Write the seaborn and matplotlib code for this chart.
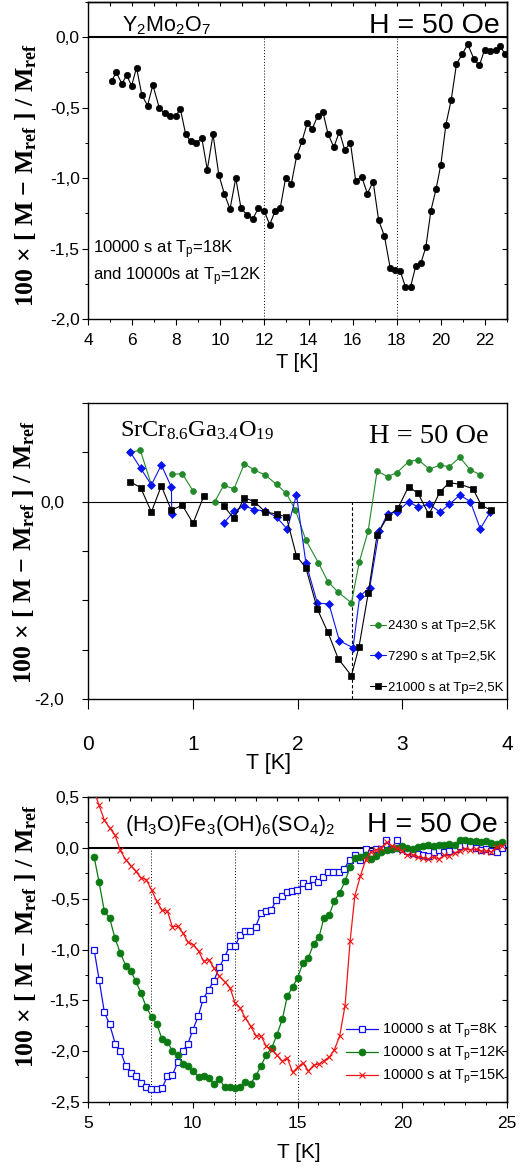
import numpy as np
import pandas as pd
import matplotlib
matplotlib.use("Agg")
import matplotlib.pyplot as plt
import seaborn as sns
from matplotlib.ticker import MultipleLocator, FixedLocator, FuncFormatter, NullFormatter

# ---- data: panel 1, Y2Mo2O7 ----
y2mo_T = [5.07, 5.28, 5.54, 5.75, 5.98, 6.2, 6.44, 6.7, 6.94, 7.24, 7.47, 7.71, 7.97,
          8.19, 8.43, 8.66, 8.92, 9.16, 9.41, 9.67, 9.93, 10.18, 10.44, 10.7, 10.94,
          11.21, 11.47, 11.72, 11.98, 12.24, 12.48, 12.72, 12.96, 13.22, 13.46, 13.7,
          13.94, 14.17, 14.41, 14.65, 14.89, 15.15, 15.4, 15.64, 15.9, 16.14, 16.41,
          16.67, 16.93, 17.18, 17.44, 17.7, 17.94, 18.16, 18.39, 18.63, 18.86, 19.1,
          19.32, 19.55, 19.78, 20.0, 20.23, 20.47, 20.71, 20.97, 21.22, 21.5, 21.75,
          21.98, 22.24, 22.48, 22.69, 22.9]
y2mo_dM = [-0.31, -0.25, -0.33, -0.27, -0.345, -0.215, -0.41, -0.485, -0.34, -0.505,
           -0.54, -0.56, -0.56, -0.51, -0.69, -0.74, -0.75, -0.715, -0.94, -0.69,
           -0.975, -1.11, -1.22, -1.0, -1.215, -1.26, -1.29, -1.215, -1.23, -1.33,
           -1.235, -1.21, -1.0, -1.04, -0.845, -0.74, -0.61, -0.65, -0.56, -0.53,
           -0.69, -0.78, -0.67, -0.80, -0.75, -1.02, -0.99, -1.11, -1.025, -1.30,
           -1.41, -1.635, -1.65, -1.66, -1.77, -1.77, -1.625, -1.60, -1.49, -1.23,
           -1.08, -0.905, -0.62, -0.445, -0.19, -0.12, -0.05, -0.155, -0.20, -0.09,
           -0.095, -0.09, -0.06, -0.12]
y2mo_tp = [12, 18]

# ---- data: panel 2, SrCr8.6Ga3.4O19 (nan = break in the curve) ----
nan = np.nan
scgo_T_2430 = [0.40, 0.50, 0.605, nan, 0.806, 0.90, 1.003, nan, 1.21, 1.295, 1.394,
               1.493, 1.589, 1.693, 1.80, 1.894, 1.98, 2.08, 2.2, 2.29, 2.39, 2.515,
               2.59, 2.674, 2.76, 2.86, 2.95, 3.06, 3.15, 3.26, 3.36, 3.45, 3.55, 3.65,
               3.745]
scgo_dM_2430 = [0.50, 0.52, 0.17, nan, 0.277, 0.284, 0.108, nan, 0.0, 0.165, 0.13,
                0.385, 0.32, 0.27, 0.175, 0.084, -0.085, -0.39, -0.62, -0.81, -0.92,
                -1.025, -0.61, -0.30, 0.31, 0.255, 0.295, 0.405, 0.425, 0.33, 0.37,
                0.355, 0.45, 0.32, 0.275]
scgo_T_7290 = [0.405, 0.503, 0.605, 0.70, 0.796, 0.80, nan, 1.295, 1.394, 1.493, 1.589,
               1.693, 1.80, 1.903, 1.99, 2.08, 2.19, 2.30, 2.40, 2.53, 2.594, 2.69,
               2.78, 2.86, 2.95, 3.06, 3.15, 3.26, 3.36, 3.45, 3.55, 3.65, 3.745, 3.84]
scgo_dM_7290 = [0.50, 0.338, 0.17, 0.372, 0.148, -0.12, nan, -0.22, -0.095, -0.045,
                -0.08, -0.095, -0.156, -0.28, 0.07, -0.62, -1.03, -1.035, -1.41, -1.48,
                -0.96, -0.87, -0.30, -0.12, -0.105, 0.0, -0.054, -0.027, -0.105,
                -0.027, 0.068, 0.0, -0.274, -0.105]
scgo_T_21000 = [0.405, 0.503, 0.605, 0.70, 0.796, 0.90, 1.003, 1.105, nan, 1.295,
                1.394, 1.493, 1.589, 1.693, 1.80, 1.894, 1.99, 2.08, 2.19, 2.29, 2.39,
                2.515, 2.587, 2.675, 2.76, 2.86, 2.96, 3.06, 3.15, 3.255, 3.36, 3.45,
                3.55, 3.675, 3.755, 3.85]
scgo_dM_21000 = [0.20, 0.142, -0.105, 0.16, -0.087, -0.035, -0.22, 0.057, nan, -0.045,
                 -0.17, 0.04, 0.0, -0.105, -0.125, -0.155, -0.55, -0.67, -1.09, -1.324,
                 -1.594, -1.763, -1.472, -0.93, -0.335, -0.152, -0.064, 0.152, 0.085,
                 -0.13, 0.10, 0.193, 0.176, 0.132, -0.037, -0.088]
scgo_labels = ["2430 s at Tp=2,5K", "7290 s at Tp=2,5K", "21000 s at Tp=2,5K"]
scgo_tp = [2.52]

# ---- data: panel 3, (H3O)Fe3(OH)6(SO4)2 ----
jar_T_8 = [5.29, 5.53, 5.78, 6.03, 6.30, 6.54, 6.80, 7.04, 7.28, 7.51, 7.77, 8.02, 8.28,
           8.55, 8.79, 9.03, 9.28, 9.52, 9.77, 10.01, 10.27, 10.5, 10.76, 11.01, 11.27,
           11.52, 11.76, 12.02, 12.26, 12.51, 12.75, 13.0, 13.26, 13.51, 13.75, 13.99,
           14.24, 14.5, 14.74, 14.99, 15.25, 15.5, 15.74, 15.98, 16.22, 16.46, 16.71,
           16.97, 17.2, 17.49, 17.73, 18.0, 18.25, 18.49, 18.76, 19.0, 19.24, 19.48,
           19.73, 19.99, 20.25, 20.5, 20.75, 21.0, 21.25, 21.5, 21.75, 22.0, 22.25,
           22.5, 22.75, 23.0, 23.25, 23.5, 23.75, 24.0, 24.25, 24.5, 24.75]
jar_dM_8 = [-1.0, -1.296, -1.617, -1.735, -1.926, -1.995, -2.142, -2.215, -2.247, -2.313,
            -2.356, -2.372, -2.372, -2.362, -2.24, -2.234, -2.11, -2.0, -1.926, -1.788,
            -1.65, -1.486, -1.394, -1.306, -1.175, -1.073, -0.968, -0.968, -0.86,
            -0.817, -0.817, -0.778, -0.64, -0.623, -0.607, -0.515, -0.476, -0.436,
            -0.42, -0.417, -0.345, -0.377, -0.302, -0.335, -0.285, -0.24, -0.24,
            -0.233, -0.213, -0.121, -0.075, -0.115, -0.016, -0.049, -0.01, -0.016,
            0.075, -0.016, 0.075, -0.01, -0.03, -0.05, -0.06, -0.07, -0.08, -0.04,
            -0.02, -0.04, -0.03, -0.01, 0.02, 0.03, 0.02, 0.0, -0.02, -0.01, -0.03,
            -0.04, 0.0]
jar_T = [5.29, 5.53, 5.78, 6.03, 6.29, 6.54, 6.80, 7.04, 7.28, 7.53, 7.78, 8.04, 8.28,
         8.53, 8.79, 9.03, 9.28, 9.53, 9.77, 10.03, 10.28, 10.52, 10.76, 11.01, 11.27,
         11.52, 11.78, 12.02, 12.26, 12.51, 12.76, 13.02, 13.27, 13.51, 13.77, 14.02,
         14.28, 14.51, 14.77, 15.0, 15.26, 15.52, 15.77, 16.03, 16.26, 16.52, 16.76,
         17.01, 17.27, 17.51, 17.74, 18.0, 18.25, 18.49, 18.75, 19.0, 19.25, 19.5,
         19.75, 20.0, 20.25, 20.5, 20.75, 21.0, 21.25, 21.5, 21.75, 22.0, 22.25, 22.5,
         22.75, 23.0, 23.25, 23.5, 23.75, 24.0, 24.25, 24.5, 24.75]
jar_dM_12 = [-0.089, -0.338, -0.623, -0.69, -0.889, -1.033, -1.158, -1.21, -1.312,
             -1.427, -1.568, -1.663, -1.729, -1.88, -1.906, -2.0, -2.037, -2.13, -2.149,
             -2.195, -2.257, -2.24, -2.267, -2.323, -2.27, -2.356, -2.356, -2.362,
             -2.356, -2.303, -2.32, -2.24, -2.142, -2.034, -1.969, -1.837, -1.683,
             -1.46, -1.368, -1.28, -1.132, -1.083, -0.942, -0.876, -0.689, -0.656,
             -0.522, -0.443, -0.328, -0.19, -0.098, -0.089, -0.075, -0.108, -0.08,
             -0.04, -0.02, -0.01, 0.0, 0.016, 0.0, -0.01, 0.01, 0.02, 0.03, 0.02, 0.03,
             0.03, 0.04, 0.03, 0.08, 0.075, 0.07, 0.065, 0.06, 0.066, 0.05, 0.04, 0.056]
jar_dM_15 = [0.56, 0.417, 0.272, 0.197, 0.125, -0.026, -0.115, -0.174, -0.23, -0.295,
             -0.312, -0.417, -0.525, -0.613, -0.623, -0.778, -0.771, -0.837, -0.928,
             -0.951, -1.017, -1.115, -1.099, -1.181, -1.263, -1.316, -1.378, -1.526,
             -1.575, -1.673, -1.755, -1.847, -1.854, -1.952, -1.985, -2.04, -2.1,
             -2.067, -2.208, -2.159, -2.116, -2.195, -2.139, -2.126, -2.093, -2.057,
             -1.985, -1.854, -1.552, -0.919, -0.469, -0.279, -0.121, -0.043, -0.02,
             0.0, 0.056, 0.02, 0.0, -0.03, -0.075, -0.07, -0.089, -0.1, -0.108, -0.09,
             -0.11, -0.075, -0.08, -0.05, -0.03, -0.01, -0.02, -0.016, -0.03, -0.033,
             -0.04, 0.01, 0.02]
jar_labels = [r"10000 s at T$\mathregular{_p}$=8K", r"10000 s at T$\mathregular{_p}$=12K",
              r"10000 s at T$\mathregular{_p}$=15K"]
jar_tp = [8, 12, 15]

# ---- style ----
sns.set_style("ticks", {"axes.edgecolor": "black", "xtick.color": "black",
                        "ytick.color": "black", "text.color": "black"})
SANS = ["Liberation Sans", "DejaVu Sans"]
SERIF = ["Liberation Serif", "DejaVu Serif"]
plt.rcParams["font.family"] = SANS
plt.rcParams["axes.unicode_minus"] = False
plt.rcParams["axes.linewidth"] = 1.0

W, H = 526, 1169
fig = plt.figure(figsize=(W / 100, H / 100), dpi=100)


def fx(px):
    return px / W


def fy(py):
    return 1 - py / H


def comma(v, pos=None):
    if abs(v) < 1e-9:
        v = 0.0
    return f"{v:.1f}".replace(".", ",")


def segs(T, v, name):
    d = pd.DataFrame({"T": T, "dM": v})
    d["seg"] = d["dM"].isna().cumsum()
    d["series"] = name
    return d.dropna()


def inner_ticks(ax, xstep, ymajor, yminor):
    top = ax.secondary_xaxis("top")
    top.xaxis.set_major_locator(MultipleLocator(xstep))
    top.xaxis.set_major_formatter(NullFormatter())
    top.tick_params(axis="x", direction="in", length=3, width=0.8)
    right = ax.secondary_yaxis("right")
    right.yaxis.set_major_locator(FixedLocator(ymajor))
    right.yaxis.set_minor_locator(MultipleLocator(yminor))
    right.yaxis.set_major_formatter(NullFormatter())
    right.tick_params(axis="y", which="major", direction="in", length=3.5, width=0.8)
    right.tick_params(axis="y", which="minor", direction="in", length=2.2, width=0.7)


ylab = r"100 × [ M − M$\mathregular{_{ref}}$ ] / M$\mathregular{_{ref}}$"
YLAB_FS = 18.5

# ================= panel 1 =================
ax1 = fig.add_axes([fx(88), fy(319), fx(419), 317 / H])
df1 = pd.DataFrame({"T": y2mo_T, "dM": y2mo_dM})
ax1.axhline(0, color="black", lw=1.5, zorder=1)
ax1.vlines(y2mo_tp, -2.0, 0, colors="black", linestyles=(0, (1, 2)), lw=0.7, zorder=1)
sns.lineplot(data=df1, x="T", y="dM", ax=ax1, color="black", lw=0.8, marker="o",
             markersize=4.6, markeredgecolor="black", markeredgewidth=0.5,
             estimator=None, sort=False, zorder=3)
ax1.set_xlim(4, 23)
ax1.set_ylim(-2.0, 0.25)
ax1.xaxis.set_major_locator(MultipleLocator(2))
ax1.xaxis.set_minor_locator(MultipleLocator(1))
ax1.yaxis.set_major_locator(FixedLocator([-2, -1.5, -1, -0.5, 0]))
ax1.yaxis.set_minor_locator(MultipleLocator(0.25))
ax1.yaxis.set_major_formatter(FuncFormatter(comma))
ax1.tick_params(which="major", direction="out", length=4, width=0.8, labelsize=12.5)
ax1.tick_params(which="minor", direction="out", length=2.2, width=0.7)
ax1.tick_params(axis="x", pad=6)
ax1.tick_params(axis="y", pad=2)
ax1.set_xlabel("")
ax1.set_ylabel("")
inner_ticks(ax1, 1, [-2, -1.5, -1, -0.5, 0], 0.25)

fig.text(fx(122), fy(31), r"Y$\mathregular{_2}$Mo$\mathregular{_2}$O$\mathregular{_7}$",
         fontsize=15.5, ha="left", va="baseline")
fig.text(fx(500), fy(33), "H = 50 Oe", fontsize=20.5, ha="right", va="baseline")
fig.text(fx(93), fy(253), r"10000 s at T$\mathregular{_p}$=18K", fontsize=12,
         ha="left", va="baseline")
fig.text(fx(93), fy(280), r"and 10000s at T$\mathregular{_p}$=12K", fontsize=12,
         ha="left", va="baseline")
fig.text(fx(297), fy(362), "T [K]", fontsize=14.5, ha="center", va="center")
fig.text(fx(26), fy(175), ylab, rotation=90, fontsize=YLAB_FS, fontweight="bold",
         family=SERIF, ha="center", va="center")

# ================= panel 2 =================
ax2 = fig.add_axes([fx(88), fy(699), fx(419), 296 / H])
ax2.axhline(0, color="black", lw=0.8, zorder=1)
ax2.vlines(scgo_tp, -2.0, 0, colors="black", linestyles=(0, (3, 2)), lw=0.8, zorder=1)
p2 = [
    (scgo_T_2430, scgo_dM_2430, scgo_labels[0], "#23892a", "o", 4.2),
    (scgo_T_7290, scgo_dM_7290, scgo_labels[1], "#0a14f0", "D", 3.6),
    (scgo_T_21000, scgo_dM_21000, scgo_labels[2], "black", "s", 4.4),
]
for T, v, lab, col, mk, ms in p2:
    d = segs(T, v, lab)
    sns.lineplot(data=d, x="T", y="dM", units="seg", estimator=None, sort=False, ax=ax2,
                 color=col, lw=0.8, marker=mk, markersize=ms, markeredgecolor=col,
                 markeredgewidth=0.5, label=lab, zorder=3)
h, l = ax2.get_legend_handles_labels()
uniq = dict(zip(l, h))
ax2.legend([uniq[k] for k in scgo_labels], scgo_labels, loc="upper left",
           bbox_to_anchor=(fx(370), fy(620)), bbox_transform=fig.transFigure,
           frameon=False, fontsize=9.5, handlelength=1.25, handletextpad=0.15,
           labelspacing=1.4, borderpad=0, borderaxespad=0)
ax2.set_xlim(0, 4)
ax2.set_ylim(-2.0, 1.0)
ax2.xaxis.set_major_locator(MultipleLocator(1))
ax2.yaxis.set_major_locator(MultipleLocator(0.5))
ax2.yaxis.set_major_formatter(FuncFormatter(
    lambda v, p: comma(v) if abs(v) < 1e-9 or abs(v + 2) < 1e-9 else ""))
ax2.tick_params(axis="x", direction="out", length=7, width=0.8, labelsize=15, pad=19)
ax2.tick_params(axis="y", direction="out", length=4, width=0.8, labelsize=12.5, pad=13)
ax2.set_xlabel("")
ax2.set_ylabel("")

fig.text(fx(120), fy(437), r"SrCr$\mathregular{_{8.6}}$Ga$\mathregular{_{3.4}}$O$\mathregular{_{19}}$",
         family=SERIF, fontsize=17.5, ha="left", va="baseline")
fig.text(fx(489), fy(443), "H = 50 Oe", family=SERIF, fontsize=20.5, ha="right",
         va="baseline")
fig.text(fx(268), fy(764), "T [K]", fontsize=15.5, ha="center", va="center")
fig.text(fx(24), fy(552), ylab, rotation=90, fontsize=YLAB_FS, fontweight="bold",
         family=SERIF, ha="center", va="center")

# ================= panel 3 =================
ax3 = fig.add_axes([fx(88), fy(1102), fx(419), 305 / H])
ax3.axhline(0, color="black", lw=1.5, zorder=1)
ax3.vlines(jar_tp, -2.5, 0, colors="black", linestyles=(0, (1, 2)), lw=0.7, zorder=1)
d8 = pd.DataFrame({"T": jar_T_8, "dM": jar_dM_8})
d12 = pd.DataFrame({"T": jar_T, "dM": jar_dM_12})
d15 = pd.DataFrame({"T": jar_T, "dM": jar_dM_15})
sns.lineplot(data=d8, x="T", y="dM", ax=ax3, color="#1010f0", lw=0.9, marker="s",
             markersize=4.2, markerfacecolor="white", markeredgecolor="#1010f0",
             markeredgewidth=0.9, estimator=None, sort=False, label=jar_labels[0],
             zorder=3)
sns.lineplot(data=d12, x="T", y="dM", ax=ax3, color="#0b7a12", lw=0.9, marker="o",
             markersize=5, markeredgecolor="#0b7a12", markeredgewidth=0.5,
             estimator=None, sort=False, label=jar_labels[1], zorder=4)
sns.lineplot(data=d15, x="T", y="dM", ax=ax3, color="#f01414", lw=0.9, marker="x",
             markersize=4.8, markeredgecolor="#f01414", markeredgewidth=0.8,
             estimator=None, sort=False, label=jar_labels[2], zorder=5)
ax3.legend(loc="upper left", bbox_to_anchor=(fx(346), fy(1022)),
           bbox_transform=fig.transFigure, frameon=False, fontsize=10.5,
           handlelength=2.2, handletextpad=0.25, labelspacing=0.32, borderpad=0,
           borderaxespad=0)
ax3.set_xlim(5, 25)
ax3.set_ylim(-2.5, 0.5)
ax3.xaxis.set_major_locator(MultipleLocator(5))
ax3.xaxis.set_minor_locator(MultipleLocator(1))
ax3.yaxis.set_major_locator(MultipleLocator(0.5))
ax3.yaxis.set_minor_locator(MultipleLocator(0.25))
ax3.yaxis.set_major_formatter(FuncFormatter(comma))
ax3.tick_params(which="major", direction="out", length=4, width=0.8, labelsize=12.5)
ax3.tick_params(which="minor", direction="out", length=2.2, width=0.7)
ax3.tick_params(axis="x", pad=6)
ax3.tick_params(axis="y", pad=2)
ax3.set_xlabel("")
ax3.set_ylabel("")
inner_ticks(ax3, 1, [-2.5, -2, -1.5, -1, -0.5, 0, 0.5], 0.25)

fig.text(fx(125), fy(831),
         r"(H$\mathregular{_3}$O)Fe$\mathregular{_3}$(OH)$\mathregular{_6}$(SO$\mathregular{_4}$)$\mathregular{_2}$",
         fontsize=15.5, ha="left", va="baseline")
fig.text(fx(498), fy(832), "H = 50 Oe", fontsize=20.5, ha="right", va="baseline")
fig.text(fx(299), fy(1153), "T [K]", fontsize=15, ha="center", va="center")
fig.text(fx(26), fy(936), ylab, rotation=90, fontsize=YLAB_FS, fontweight="bold",
         family=SERIF, ha="center", va="center")

fig.savefig("out.png", dpi=100)
